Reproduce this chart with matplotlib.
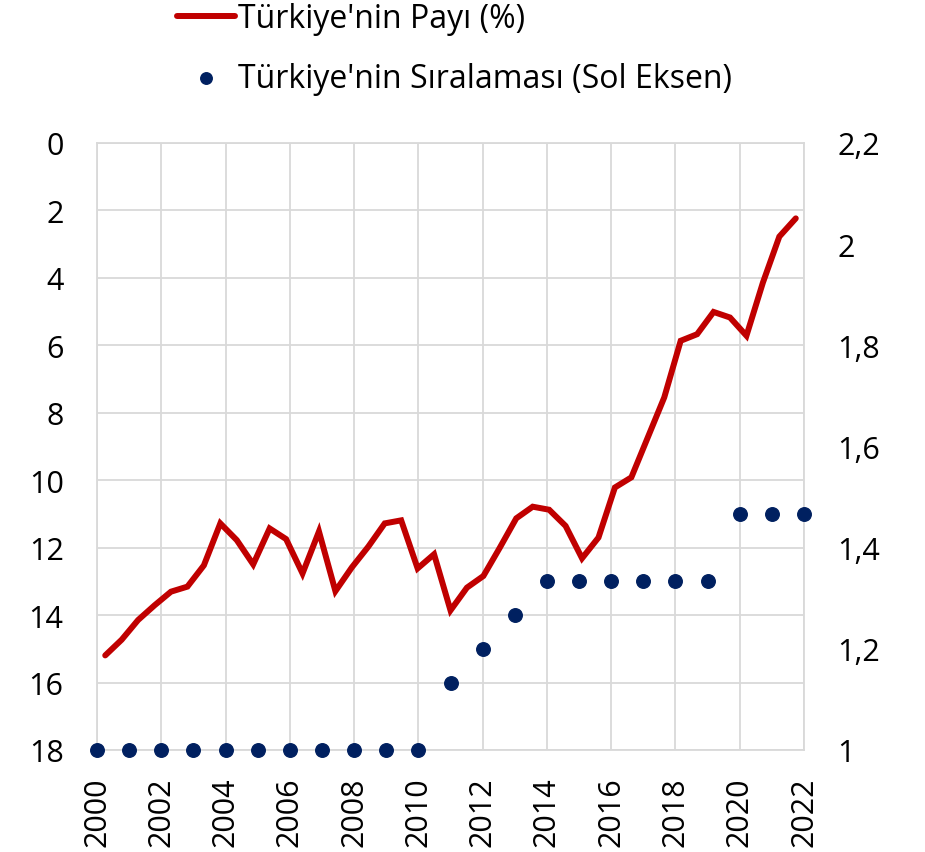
import matplotlib
matplotlib.use("Agg")
import matplotlib.pyplot as plt

plt.rcParams['font.family'] = ['Open Sans', 'DejaVu Sans']

# === Data ===
rank_years = list(range(2000, 2023))
rank = [18, 18, 18, 18, 18, 18, 18, 18, 18, 18, 18,
        16, 15, 14, 13, 13, 13, 13, 13, 13, 11, 11, 11]

# share (%) - 43 half-year points on their own category axis
share = [1.187, 1.218, 1.257, 1.286, 1.313, 1.323, 1.365, 1.448, 1.415, 1.367,
         1.438, 1.417, 1.349, 1.432, 1.314, 1.361, 1.402, 1.448, 1.454, 1.359,
         1.387, 1.276, 1.321, 1.344, 1.400, 1.458, 1.481, 1.475, 1.443, 1.379,
         1.420, 1.519, 1.539, 1.618, 1.697, 1.809, 1.822, 1.866, 1.855, 1.819,
         1.924, 2.015, 2.051]

left_ticks = [0, 2, 4, 6, 8, 10, 12, 14, 16, 18]
right_ticks = [1.0, 1.2, 1.4, 1.6, 1.8, 2.0, 2.2]
right_labels = ["1", "1,2", "1,4", "1,6", "1,8", "2", "2,2"]
x_ticks = list(range(2000, 2023, 2))

RED = "#C00000"
NAVY = "#002060"
GRID = "#D9D9D9"
FS = 22

fig = plt.figure(figsize=(9.25, 8.53), dpi=100)
rect = [97 / 925, 1 - 751 / 853, 707 / 925, 607 / 853]

# === Rank axis (left, inverted) ===
ax = fig.add_axes(rect)
ax.set_xlim(2000, 2022)
ax.set_ylim(18, 0)
ax.set_xticks(x_ticks)
ax.set_xticklabels([str(y) for y in x_ticks], rotation=90, fontsize=FS)
ax.set_yticks(left_ticks)
ax.set_yticklabels([str(t) for t in left_ticks], fontsize=FS)
ax.tick_params(axis='y', length=0, pad=24)
ax.tick_params(axis='x', length=0, pad=19)
ax.grid(True, color=GRID, linewidth=1.3)
ax.set_axisbelow(True)
for s in ax.spines.values():
    s.set_color(GRID)
    s.set_linewidth(1.3)

# === Share axis (right), own category axis ===
ax2 = fig.add_axes(rect, frameon=False)
ax2.set_xlim(-0.5, len(share) - 0.5)
ax2.set_ylim(1.0, 2.2)
ax2.xaxis.set_visible(False)
ax2.yaxis.tick_right()
ax2.set_yticks(right_ticks)
ax2.set_yticklabels(right_labels, fontsize=FS)
ax2.tick_params(length=0, pad=24)
ax2.patch.set_visible(False)

line, = ax2.plot(range(len(share)), share, color=RED, linewidth=4.3,
                 solid_capstyle='round', solid_joinstyle='miter',
                 label="Türkiye'nin Payı (%)")

# rank dots drawn above the line, in the rank axis coordinates
sc = ax2.scatter(rank_years, rank, s=95, color=NAVY, zorder=5, clip_on=False,
                 transform=ax.transData, label="Türkiye'nin Sıralaması (Sol Eksen)")

fig.legend(handles=[line, sc], loc='upper left', bbox_to_anchor=(177 / 925, 0.996),
           frameon=False, fontsize=23, handlelength=1.8, handletextpad=0.1,
           labelspacing=0.82, borderaxespad=0.0, borderpad=0.0, markerscale=0.85)

fig.savefig("out.png", dpi=100)
